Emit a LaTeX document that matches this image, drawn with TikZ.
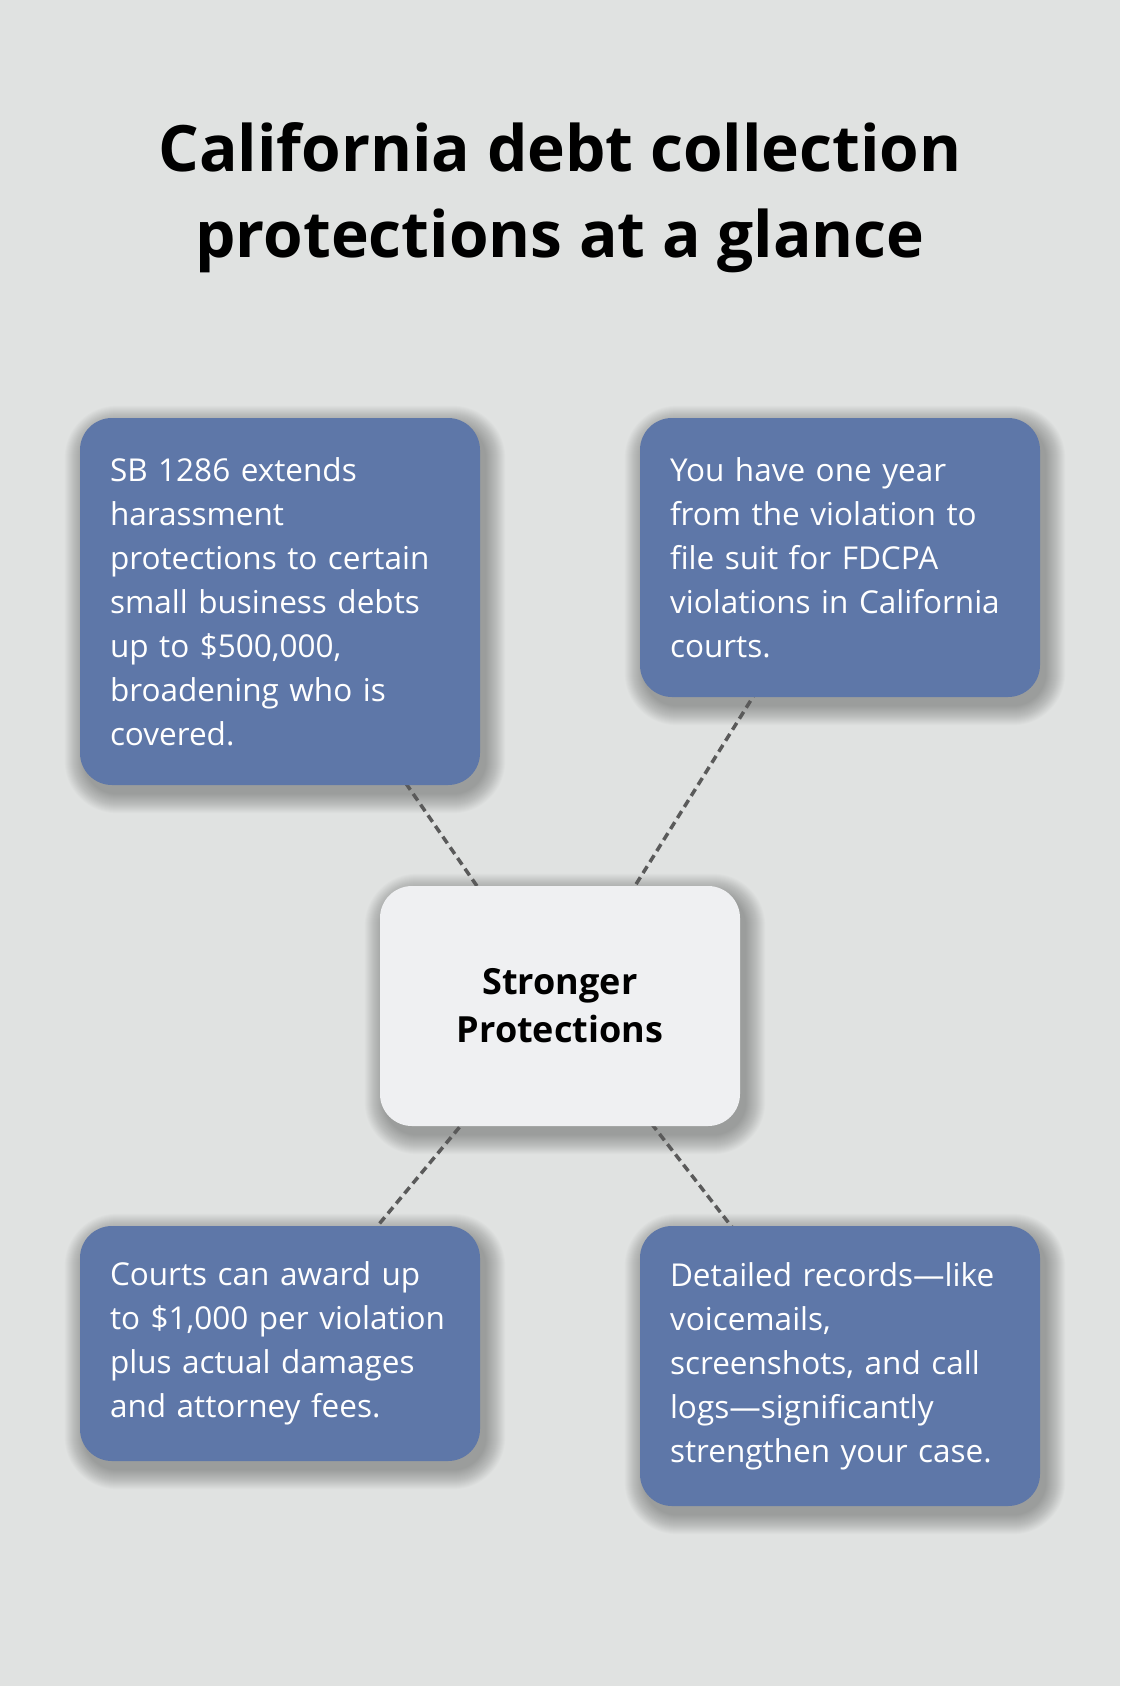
\documentclass[tikz,border=0pt]{standalone}
\usepackage{fontspec}
\setmainfont{Open Sans}
\pgfdeclarelayer{backdrop}
\pgfdeclarelayer{background}
\pgfsetlayers{backdrop,background,main}
\definecolor{bgc}{HTML}{E0E2E1}
\definecolor{boxblue}{HTML}{5E77A8}
\definecolor{centerc}{HTML}{EFF0F2}
\definecolor{dashc}{HTML}{5A5A5A}
\tikzset{
  infobox/.style={draw=none, fill=boxblue, rounded corners=32pt, text=white,
    text width=340pt, inner xsep=30pt, inner ysep=0pt, align=left,
    minimum width=400pt,
    font=\fontsize{31.5}{44}\selectfont},
  centerbox/.style={draw=none, fill=centerc, rounded corners=32pt, text=black,
    minimum width=360pt, minimum height=240pt, align=center, inner sep=0pt,
    font=\bfseries\fontsize{36}{48}\selectfont},
  conn/.style={draw=dashc, line width=3.5pt, dash pattern=on 8pt off 5pt},
  shadowlayer/.style={fill=black, opacity=0.014},
  titlestyle/.style={align=center, inner sep=0pt, font=\bfseries\fontsize{64}{86}\selectfont, text=black}
}
\begin{document}
\begin{tikzpicture}[x=1pt,y=-1pt]
\begin{pgfonlayer}{backdrop}
\fill[bgc] (0,0) rectangle (1120,1686);
\end{pgfonlayer}
\useasboundingbox (0,0) rectangle (1120,1686);

\node[titlestyle, anchor=base] (title) at (560,257) {California debt collection\\protections at a glance};

\node[infobox, minimum height=367pt] (tl) at (280,601.5) {SB 1286 extends\\harassment\\protections to certain\\small business debts\\up to \$500,000,\\broadening who is\\covered.};
\node[infobox, minimum height=279pt] (tr) at (840,557.5) {You have one year\\from the violation to\\file suit for FDCPA\\violations in California\\courts.};
\node[infobox, minimum height=235pt] (bl) at (280,1343.5) {Courts can award up\\to \$1,000 per violation\\plus actual damages\\and attorney fees.};
\node[infobox, minimum height=280pt] (br) at (840,1366) {Detailed records—like\\voicemails,\\screenshots, and call\\logs—significantly\\strengthen your case.};
\node[centerbox] (c) at (560,1006) {Stronger\\Protections};

\begin{pgfonlayer}{backdrop}
\foreach \n in {tl,tr,bl,br,c}{
  \foreach \i in {0,...,19}{
    \pgfmathsetmacro{\e}{20-\i}
    \pgfmathsetmacro{\r}{32+\e}
    \fill[shadowlayer, rounded corners=\r pt]
      ([xshift=5pt-\e pt, yshift=-8pt+\e pt]\n.north west) rectangle
      ([xshift=5pt+\e pt, yshift=-8pt-\e pt]\n.south east);
  }
}
\end{pgfonlayer}

\begin{pgfonlayer}{background}
\draw[conn] (tl.center) -- (c.center);
\draw[conn] (tr.center) -- (c.center);
\draw[conn] (bl.center) -- (c.center);
\draw[conn] (br.center) -- (c.center);
\end{pgfonlayer}
\end{tikzpicture}
\end{document}
